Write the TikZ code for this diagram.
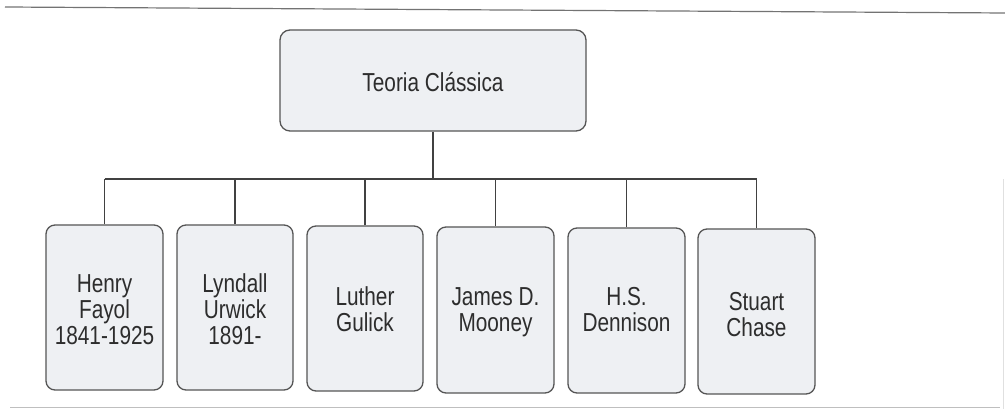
\documentclass[tikz,border=0pt]{standalone}
\usepackage{fontspec}
\setmainfont{Liberation Sans}[FakeStretch=0.8]
\definecolor{boxfill}{RGB}{238,240,243}
\definecolor{boxline}{RGB}{85,85,85}
\definecolor{linkcol}{RGB}{65,65,65}
\definecolor{ink}{RGB}{45,45,45}
% struts that fix the height of the first line and the depth of the last one
\newcommand\firststrut{\rule{0pt}{19pt}}
\newcommand\laststrut{\rule[-6pt]{0pt}{6pt}}
\begin{document}
\begin{tikzpicture}[x=1pt,y=1pt,
  headbox/.style={draw=boxline, line width=1.3pt, rounded corners=10pt, fill=boxfill,
    minimum width=306pt, minimum height=101pt, inner sep=0pt},
  person/.style={draw=boxline, line width=1.3pt, rounded corners=9pt, fill=boxfill,
    minimum width=117pt, minimum height=165pt, inner sep=0pt},
  persontext/.style={text=ink, align=center, inner sep=0pt,
    font=\fontsize{26}{26}\selectfont},
  headtext/.style={text=ink, inner sep=0pt, font=\fontsize{26}{26}\selectfont},
  link/.style={draw=linkcol, line width=1.2pt},
  pagerule/.style={line width=1.2pt}]
\useasboundingbox (0,0) rectangle (1005,409);

% page rules
\draw[pagerule, draw=black!55] (5,402) -- (1005,396);
\draw[pagerule, draw=black!25] (10,1.5) -- (1000,1.5);
\draw[line width=0.8pt, draw=black!12] (1003,230) -- (1003,0);

% root
\node[headbox] (top) at (433,328.5) {};
\node[headtext, anchor=base] (toptext) at (433,317) {Teoria Clássica};

% authors
\node[person] (b1) at (104.5,101.5) {};
\node[person, minimum width=116pt] (b2) at (235,101.5) {};
\node[person, minimum width=116pt] (b3) at (365,100.5) {};
\node[person, minimum height=166pt] (b4) at (495.5,99) {};
\node[person] (b5) at (626.5,98.5) {};
\node[person] (b6) at (756.5,97.5) {};

\node[persontext] (t1) at (104.5,97) {\firststrut Henry\\Fayol\\1841-1925\laststrut};
\node[persontext] (t2) at (235,97) {\firststrut Lyndall\\Urwick\\1891-\laststrut};
\node[persontext] (t3) at (365,97) {\firststrut Luther\\Gulick\laststrut};
\node[persontext] (t4) at (495.5,97) {\firststrut James D.\\Mooney\laststrut};
\node[persontext] (t5) at (626.5,97) {\firststrut H.S.\\Dennison\laststrut};
\node[persontext] (t6) at (756.5,92) {\firststrut Stuart\\Chase\laststrut};

% connectors
\coordinate (j) at (432,230);
\draw[link] (top.south) -- (top.south |- j);
\draw[link] (b1.north |- j) -- (b6.north |- j);
\foreach \b in {b1,b2,b3,b4,b5,b6}
  \draw[link] (\b.north) -- (\b.north |- j);
\end{tikzpicture}
\end{document}
